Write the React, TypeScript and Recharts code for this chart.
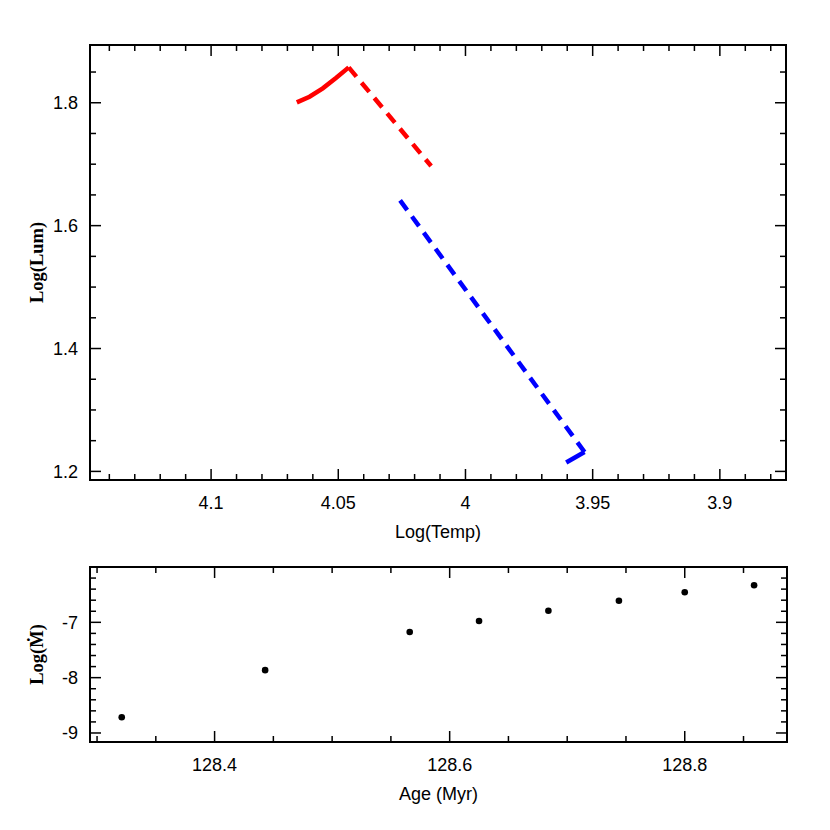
import { ComposedChart, Line, Scatter, XAxis, YAxis, ReferenceArea, Label } from "recharts";

// HR diagram tracks (log T, log L)
const redSolidTemp = [4.0663, 4.0613, 4.0561, 4.0508, 4.0459];
const redSolidLum = [1.8006, 1.8098, 1.8234, 1.8407, 1.8576];
const redDashTemp = [4.0459, 4.0135];
const redDashLum = [1.8576, 1.697];
const blueDashTemp = [3.9532, 4.0263];
const blueDashLum = [1.2315, 1.6445];
const blueSolidTemp = [3.9532, 3.9604];
const blueSolidLum = [1.2315, 1.2146];

// mass loss rate vs age
const ages = [128.321, 128.443, 128.566, 128.625, 128.684, 128.744, 128.8, 128.859];
const logMdot = [-8.716, -7.864, -7.176, -6.976, -6.79, -6.61, -6.457, -6.33];

// axes
const tempDomain = [3.874, 4.1476];
const lumDomain = [1.186, 1.894];
const tempMajor = [4.1, 4.05, 4, 3.95, 3.9];
const tempMinor = [4.14, 4.13, 4.12, 4.11, 4.09, 4.08, 4.07, 4.06, 4.04, 4.03, 4.02, 4.01, 3.99, 3.98, 3.97, 3.96, 3.94, 3.93, 3.92, 3.91, 3.89, 3.88];
const lumMajor = [1.8, 1.6, 1.4, 1.2];
const lumMinor = [1.85, 1.75, 1.7, 1.65, 1.55, 1.5, 1.45, 1.35, 1.3, 1.25];

const ageDomain = [128.294, 128.887];
const mdotDomain = [-9.163, -6.0];
const ageMajor = [128.4, 128.6, 128.8];
const ageMinor = [128.3, 128.35, 128.45, 128.5, 128.55, 128.65, 128.7, 128.75, 128.85];
const mdotMajor = [-7, -8, -9];
const mdotMinor = [-6.2, -6.4, -6.6, -6.8, -7.2, -7.4, -7.6, -7.8, -8.2, -8.4, -8.6, -8.8];

const toPts = (t: number[], l: number[]) => t.map((v, i) => ({ t: v, l: l[i] }));

const SANS = "'Liberation Sans', Arial, sans-serif";
const SERIF = "'Liberation Serif', 'Times New Roman', serif";
const MAJOR = 11;
const MINOR = 6;

const isIn = (arr: number[], v: number) => arr.some((m) => Math.abs(m - v) < 1e-9);

const xTick = (majors: number[], plotTop: number) => (props: any) => {
  const { x, y, payload } = props;
  const major = isIn(majors, payload.value);
  const len = major ? MAJOR : MINOR;
  return (
    <g>
      <line x1={x} y1={y} x2={x} y2={y - len} stroke="#000" strokeWidth={1.5} />
      <line x1={x} y1={plotTop} x2={x} y2={plotTop + len} stroke="#000" strokeWidth={1.5} />
      {major && (
        <text x={x} y={y + 29} textAnchor="middle" fontFamily={SANS} fontSize={18} fill="#000">
          {String(payload.value)}
        </text>
      )}
    </g>
  );
};

const yTick = (majors: number[], plotRight: number) => (props: any) => {
  const { x, y, payload } = props;
  const major = isIn(majors, payload.value);
  const len = major ? MAJOR : MINOR;
  return (
    <g>
      <line x1={x} y1={y} x2={x + len} y2={y} stroke="#000" strokeWidth={1.5} />
      <line x1={plotRight} y1={y} x2={plotRight - len} y2={y} stroke="#000" strokeWidth={1.5} />
      {major && (
        <text x={x - 12} y={y + 6.5} textAnchor="end" fontFamily={SANS} fontSize={18} fill="#000">
          {String(payload.value)}
        </text>
      )}
    </g>
  );
};

const yTitle = (text: string) => (props: any) => {
  const vb = props.viewBox;
  const cx = vb.x + vb.width - 53;
  const cy = vb.y + vb.height / 2;
  return (
    <text x={cx} y={cy} transform={`rotate(-90 ${cx} ${cy})`} textAnchor="middle" dominantBaseline="central"
      fontFamily={SERIF} fontWeight="bold" fontSize={18.5} fill="#000">
      {text}
    </text>
  );
};

const xTitle = (text: string) => (props: any) => {
  const vb = props.viewBox;
  return (
    <text x={vb.x + vb.width / 2} y={vb.y + 58} textAnchor="middle" fontFamily={SANS} fontSize={18} fill="#000">
      {text}
    </text>
  );
};

export default function App() {
  const topMargin = { top: 45, right: 44, bottom: 74, left: 89 };
  const botMargin = { top: 12, right: 43, bottom: 87, left: 89 };

  return (
    <div style={{ position: "absolute", left: 0, top: 0, width: 830, height: 830, background: "#fff" }}>
      <div style={{ position: "absolute", left: 0, top: 0 }}>
        <ComposedChart width={830} height={555} margin={topMargin}>
          <XAxis xAxisId="t" dataKey="t" type="number" domain={tempDomain} allowDataOverflow reversed
            ticks={[...tempMajor, ...tempMinor]} interval={0} height={1} tickSize={0} tickMargin={0}
            axisLine={false} tickLine={false} tick={xTick(tempMajor, topMargin.top)}>
            <Label content={xTitle("Log(Temp)")} />
          </XAxis>
          <YAxis yAxisId="l" dataKey="l" type="number" domain={lumDomain} allowDataOverflow
            ticks={[...lumMajor, ...lumMinor]} interval={0} width={1} tickSize={0} tickMargin={0}
            axisLine={false} tickLine={false} tick={yTick(lumMajor, 830 - topMargin.right)}>
            <Label content={yTitle("Log(Lum)")} />
          </YAxis>
          <Line xAxisId="t" yAxisId="l" data={toPts(redSolidTemp, redSolidLum)} dataKey="l" type="linear"
            stroke="#ff0000" strokeWidth={4.5} dot={false} isAnimationActive={false} />
          <Line xAxisId="t" yAxisId="l" data={toPts(redDashTemp, redDashLum)} dataKey="l" type="linear"
            stroke="#ff0000" strokeWidth={4.5} strokeDasharray="12 8" dot={false} isAnimationActive={false} />
          <Line xAxisId="t" yAxisId="l" data={toPts(blueDashTemp, blueDashLum)} dataKey="l" type="linear"
            stroke="#0000ff" strokeWidth={4.5} strokeDasharray="12 8" dot={false} isAnimationActive={false} />
          <Line xAxisId="t" yAxisId="l" data={toPts(blueSolidTemp, blueSolidLum)} dataKey="l" type="linear"
            stroke="#0000ff" strokeWidth={4.5} dot={false} isAnimationActive={false} />
          <ReferenceArea xAxisId="t" yAxisId="l" x1={tempDomain[0]} x2={tempDomain[1]} y1={lumDomain[0]} y2={lumDomain[1]}
            fill="none" stroke="#000" strokeWidth={2} ifOverflow="visible" />
        </ComposedChart>
      </div>
      <div style={{ position: "absolute", left: 0, top: 555 }}>
        <ComposedChart width={830} height={275} margin={botMargin}>
          <XAxis xAxisId="a" dataKey="age" type="number" domain={ageDomain} allowDataOverflow
            ticks={[...ageMajor, ...ageMinor]} interval={0} height={1} tickSize={0} tickMargin={0}
            axisLine={false} tickLine={false} tick={xTick(ageMajor, botMargin.top)}>
            <Label content={xTitle("Age (Myr)")} />
          </XAxis>
          <YAxis yAxisId="m" dataKey="m" type="number" domain={mdotDomain} allowDataOverflow
            ticks={[...mdotMajor, ...mdotMinor]} interval={0} width={1} tickSize={0} tickMargin={0}
            axisLine={false} tickLine={false} tick={yTick(mdotMajor, 830 - botMargin.right)}>
            <Label content={yTitle("Log(\u1E40)")} />
          </YAxis>
          <Scatter xAxisId="a" yAxisId="m" data={ages.map((a, i) => ({ age: a, m: logMdot[i] }))} dataKey="m"
            isAnimationActive={false}
            shape={(p: any) => <circle cx={p.cx} cy={p.cy} r={3.3} fill="#000" />} />
          <ReferenceArea xAxisId="a" yAxisId="m" x1={ageDomain[0]} x2={ageDomain[1]} y1={mdotDomain[0]} y2={mdotDomain[1]}
            fill="none" stroke="#000" strokeWidth={2} ifOverflow="visible" />
        </ComposedChart>
      </div>
    </div>
  );
}
